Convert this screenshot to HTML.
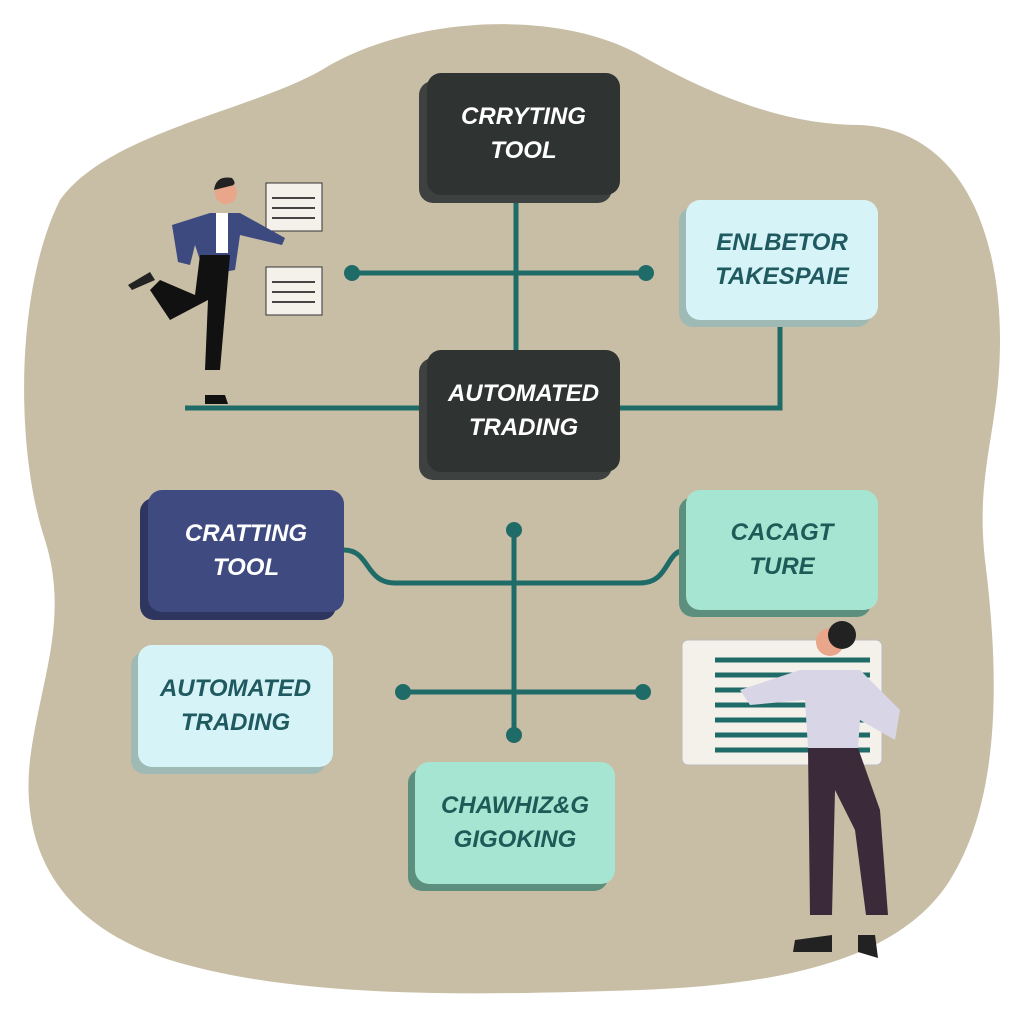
<!DOCTYPE html>
<html><head><meta charset="utf-8"><style>
html,body{margin:0;padding:0;background:#fff;}
.w{position:relative;width:1024px;height:1024px;overflow:hidden;font-family:"Liberation Sans",sans-serif;}
.b{position:absolute;border-radius:14px;display:flex;align-items:center;justify-content:center;text-align:center;font-style:italic;font-weight:bold;font-size:24px;line-height:34px;}
.dk{background:#2f3331;color:#fff;box-shadow:-8px 8px 0 #3d4240;}
.nv{background:#3e4a80;color:#fff;box-shadow:-8px 8px 0 #2e3660;}
.lb{background:#d6f4f8;color:#1f5a60;box-shadow:-7px 7px 0 #9fb9b5;}
.mt{background:#a6e5d1;color:#1f5a58;box-shadow:-7px 7px 0 #5c8f7e;}
</style></head><body><div class="w">
<svg width="1024" height="1024" style="position:absolute;left:0;top:0">
<path d="M60 200 C110 130 260 110 330 65 C420 15 560 10 640 55 C720 100 790 125 860 125 C960 130 1000 230 1000 340 C1000 430 975 470 985 560 C1000 680 1000 800 950 880 C900 960 780 985 640 990 C480 995 300 1000 170 960 C60 925 20 850 30 760 C40 680 70 620 45 540 C15 450 15 290 60 200 Z" fill="#c8bda5"/>
<g stroke="#1f6b68" stroke-width="5" fill="none">
<line x1="516" y1="195" x2="516" y2="350"/>
<line x1="352" y1="273" x2="646" y2="273"/>
<line x1="185" y1="408" x2="427" y2="408"/>
<polyline points="620,408 780,408 780,320"/>
<path d="M344 550 C370 550 365 583 395 583 L640 583 C670 583 665 550 686 550"/>
<line x1="514" y1="530" x2="514" y2="735"/>
<line x1="403" y1="692" x2="643" y2="692"/>
</g>
<g fill="#1f6b68">
<circle cx="352" cy="273" r="8"/><circle cx="646" cy="273" r="8"/>
<circle cx="514" cy="530" r="8"/><circle cx="514" cy="735" r="8"/>
<circle cx="403" cy="692" r="8"/><circle cx="643" cy="692" r="8"/>
</g>
<rect x="266" y="183" width="56" height="48" fill="#f4f1ea" stroke="#333" stroke-width="1"/>
<rect x="266" y="267" width="56" height="48" fill="#f4f1ea" stroke="#333" stroke-width="1"/>
<g stroke="#444" stroke-width="2"><line x1="272" y1="198" x2="315" y2="198"/><line x1="272" y1="208" x2="315" y2="208"/><line x1="272" y1="218" x2="315" y2="218"/><line x1="272" y1="282" x2="315" y2="282"/><line x1="272" y1="292" x2="315" y2="292"/><line x1="272" y1="302" x2="315" y2="302"/></g>
<circle cx="226" cy="193" r="11" fill="#e9a68a"/><path d="M214 190 Q216 175 232 178 Q238 185 230 186 Z" fill="#222"/>
<path d="M172 225 L210 213 L240 213 L285 238 L282 245 L240 235 L235 270 L205 275 L195 245 L190 265 L178 262 Z" fill="#3d4a80"/>
<rect x="216" y="213" width="12" height="40" fill="#fff"/>
<path d="M200 255 L230 255 L220 370 L205 370 L208 300 L170 320 L150 290 L160 280 L195 295 Z" fill="#111"/>
<path d="M128 285 L150 272 L155 280 L132 290 Z" fill="#222"/>
<path d="M205 395 L225 395 L228 404 L205 404 Z" fill="#111"/>
<rect x="682" y="640" width="200" height="125" rx="6" fill="#f4f1ea" stroke="#bbb"/>
<g stroke="#1f6b68" stroke-width="5"><line x1="715" y1="660" x2="870" y2="660"/><line x1="715" y1="675" x2="870" y2="675"/><line x1="715" y1="690" x2="870" y2="690"/><line x1="715" y1="705" x2="870" y2="705"/><line x1="715" y1="720" x2="870" y2="720"/><line x1="715" y1="735" x2="870" y2="735"/><line x1="715" y1="750" x2="870" y2="750"/></g>
<circle cx="830" cy="642" r="14" fill="#e9a68a"/><circle cx="842" cy="635" r="14" fill="#222"/>
<path d="M740 690 L800 670 L860 670 L900 710 L895 740 L860 720 L858 748 L808 748 L805 700 L750 705 Z" fill="#d8d6e6"/>
<path d="M808 748 L858 748 L880 810 L888 915 L866 915 L855 830 L835 790 L832 915 L810 915 Z" fill="#3a2a3a"/>
<path d="M795 940 L832 935 L832 952 L793 952 Z" fill="#222"/><path d="M858 935 L875 935 L878 958 L858 952 Z" fill="#222"/>
</svg>
<div class="b dk" style="left:427px;top:73px;width:193px;height:122px">CRRYTING<br>TOOL</div>
<div class="b lb" style="left:686px;top:200px;width:192px;height:120px">ENLBETOR<br>TAKESPAIE</div>
<div class="b dk" style="left:427px;top:350px;width:193px;height:122px">AUTOMATED<br>TRADING</div>
<div class="b nv" style="left:148px;top:490px;width:196px;height:122px">CRATTING<br>TOOL</div>
<div class="b mt" style="left:686px;top:490px;width:192px;height:120px">CACAGT<br>TURE</div>
<div class="b lb" style="left:138px;top:645px;width:195px;height:122px">AUTOMATED<br>TRADING</div>
<div class="b mt" style="left:415px;top:762px;width:200px;height:122px">CHAWHIZ&amp;G<br>GIGOKING</div>
</div></body></html>
